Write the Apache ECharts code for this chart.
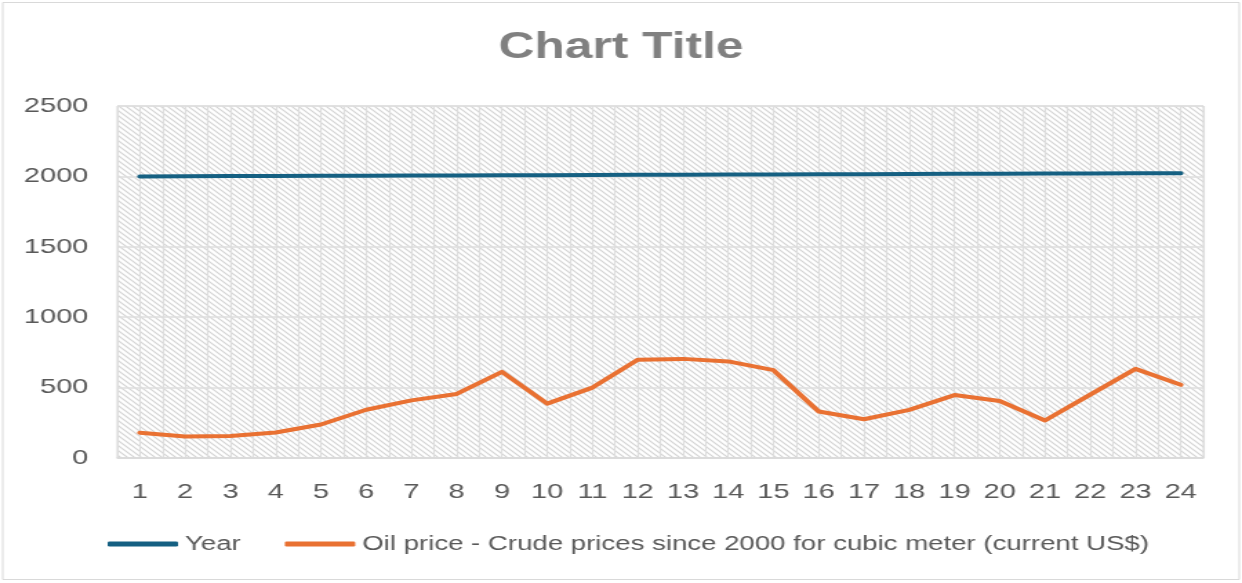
<!DOCTYPE html>
<html>
<head>
<meta charset="utf-8">
<script src="https://cdn.jsdelivr.net/npm/echarts@6/dist/echarts.min.js"></script>
<style>
  html, body { margin: 0; padding: 0; background: #fff; overflow: hidden; }
  /* the reference is a horizontally stretched picture, so the chart is drawn narrow and widened */
  #main { width: 900px; height: 583px; transform: scaleX(1.38); transform-origin: 0 0; }
</style>
</head>
<body>
<div id="main"></div>
<script>
// data
var categories = ['1', '2', '3', '4', '5', '6', '7', '8', '9', '10', '11', '12',
                  '13', '14', '15', '16', '17', '18', '19', '20', '21', '22', '23', '24'];
var yearValues = [2000, 2001, 2002, 2003, 2004, 2005, 2006, 2007, 2008, 2009, 2010, 2011,
                  2012, 2013, 2014, 2015, 2016, 2017, 2018, 2019, 2020, 2021, 2022, 2023];
var oilValues = [179, 153, 157, 181, 238, 343, 409, 455, 612, 386, 500, 698,
                 704, 686, 624, 330, 275, 342, 447, 405, 266, 450, 633, 520];
var yTicks = [0, 500, 1000, 1500, 2000, 2500];
var seriesNames = ['Year', 'Oil price - Crude prices since 2000 for cubic meter (current US$)'];

// half-step categories, only used for the vertical grid lines
var halfCats = [];
for (var i = 0; i < categories.length * 2; i++) halfCats.push('h' + i);

// diagonal hatch for the plot area
var hatch = document.createElement('canvas');
hatch.width = 5;
hatch.height = 5;
var hc = hatch.getContext('2d');
hc.fillStyle = '#ffffff';
hc.fillRect(0, 0, 5, 5);
hc.strokeStyle = '#d4d4d4';
hc.lineWidth = 1.2;
hc.beginPath();
hc.moveTo(-1, -1); hc.lineTo(6, 6);
hc.moveTo(-1, 4); hc.lineTo(1, 6);
hc.moveTo(4, -1); hc.lineTo(6, 1);
hc.stroke();

var gray = '#595959';
var font = 'Liberation Sans';

var option = {
    backgroundColor: '#ffffff',
    animation: false,
    title: {
        text: 'Chart Title',
        left: 'center',
        top: 25,
        textStyle: {
            color: '#808080',
            fontFamily: font,
            fontWeight: 'bold',
            fontSize: 36
        }
    },
    graphic: [{
        type: 'rect',
        shape: { x: 2, y: 2.5, width: 896, height: 577 },
        style: { fill: 'none', stroke: '#d9d9d9', lineWidth: 1 },
        silent: true
    }],
    legend: {
        data: seriesNames,
        left: 73,
        top: 529,
        itemWidth: 51,
        itemHeight: 5,
        itemGap: 32,
        icon: 'roundRect',
        textStyle: { color: gray, fontFamily: font, fontSize: 20 }
    },
    grid: {
        left: 85,
        right: 28,
        top: 106,
        bottom: 125,
        show: true,
        backgroundColor: { image: hatch, repeat: 'repeat' },
        borderColor: '#d9d9d9',
        borderWidth: 1
    },
    xAxis: [{
        type: 'category',
        data: categories,
        boundaryGap: true,
        axisLine: { lineStyle: { color: '#d9d9d9', width: 1.5 } },
        axisTick: { show: false },
        axisLabel: {
            interval: 0,
            color: gray,
            fontFamily: font,
            fontSize: 21,
            margin: 24
        },
        splitLine: { show: false }
    }, {
        type: 'category',
        data: halfCats,
        position: 'bottom',
        boundaryGap: true,
        axisLine: { show: false },
        axisTick: { show: false },
        axisLabel: { show: false },
        splitLine: { show: true, interval: 0, lineStyle: { color: '#dedede', width: 1.2 } }
    }],
    yAxis: {
        type: 'value',
        min: yTicks[0],
        max: yTicks[yTicks.length - 1],
        interval: 500,
        axisLine: { show: false },
        axisTick: { show: false },
        axisLabel: {
            color: gray,
            fontFamily: font,
            fontSize: 21,
            margin: 21,
            formatter: function (v) { return String(v); }
        },
        splitLine: { lineStyle: { color: '#dedede', width: 1.5 } }
    },
    series: [{
        name: seriesNames[0],
        type: 'line',
        data: yearValues,
        symbol: 'none',
        lineStyle: { color: '#156082', width: 4, cap: 'round', join: 'round' },
        itemStyle: { color: '#156082' },
        z: 3
    }, {
        name: seriesNames[1],
        type: 'line',
        data: oilValues,
        symbol: 'none',
        lineStyle: { color: '#e97132', width: 4, cap: 'round', join: 'round' },
        itemStyle: { color: '#e97132' },
        z: 3
    }]
};

var myChart = echarts.init(document.getElementById('main'));
myChart.setOption(option);
</script>
</body>
</html>
